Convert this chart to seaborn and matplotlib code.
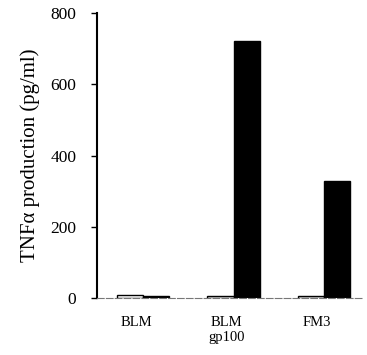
import matplotlib
matplotlib.use("Agg")
import matplotlib.pyplot as plt
import matplotlib.transforms as mtransforms
import seaborn as sns
import pandas as pd

groups = ["BLM", "BLM\ngp100", "FM3"]
conditions = ["control", "stimulated"]
control_values = [8, 6, 5]
stimulated_values = [6, 722, 328]
y_ticks = [0, 200, 400, 600, 800]

df = pd.DataFrame({
    "group": groups * 2,
    "condition": [conditions[0]] * 3 + [conditions[1]] * 3,
    "value": control_values + stimulated_values,
})

sns.set_theme(style="white")
plt.rcParams["font.family"] = ["Liberation Serif", "DejaVu Serif"]
plt.rcParams["text.color"] = "black"
plt.rcParams["axes.labelcolor"] = "black"
plt.rcParams["xtick.color"] = "black"
plt.rcParams["ytick.color"] = "black"

fig = plt.figure(figsize=(3.67, 3.55), dpi=100)
ax = fig.add_axes([97/367, 1-298/355, 265/367, 285/355])

sns.barplot(data=df, x="group", y="value", hue="condition", order=groups,
            hue_order=conditions, palette=["white", "black"], width=0.58,
            edgecolor="black", linewidth=1.0, legend=False, ax=ax)

ax.set_xlim(-0.51, 2.42)
ax.set_ylim(0, 800)
ax.set_yticks(y_ticks)
ax.set_yticklabels([str(t) for t in y_ticks], fontsize=12.5)
ax.set_ylabel("TNFα production (pg/ml)", fontsize=15, labelpad=7)
ax.set_xlabel("")
ax.tick_params(axis="y", direction="out", length=4, width=1, color="black", pad=11, left=True)
ax.tick_params(axis="x", length=0, labelsize=10.5, pad=13)
for lbl in ax.get_xticklabels():
    lbl.set_transform(lbl.get_transform() + mtransforms.ScaledTranslation(-7/100, 0, fig.dpi_scale_trans))
    lbl.set_linespacing(1.15)

for s in ["top", "right"]:
    ax.spines[s].set_visible(False)
ax.spines["left"].set_color("black")
ax.spines["left"].set_linewidth(1.5)
ax.spines["bottom"].set_color("#777777")
ax.spines["bottom"].set_linewidth(0.8)
ax.spines["bottom"].set_linestyle((0, (6, 2)))
ax.set_facecolor("white")
fig.patch.set_facecolor("white")

fig.savefig("out.png", dpi=100, facecolor="white")
